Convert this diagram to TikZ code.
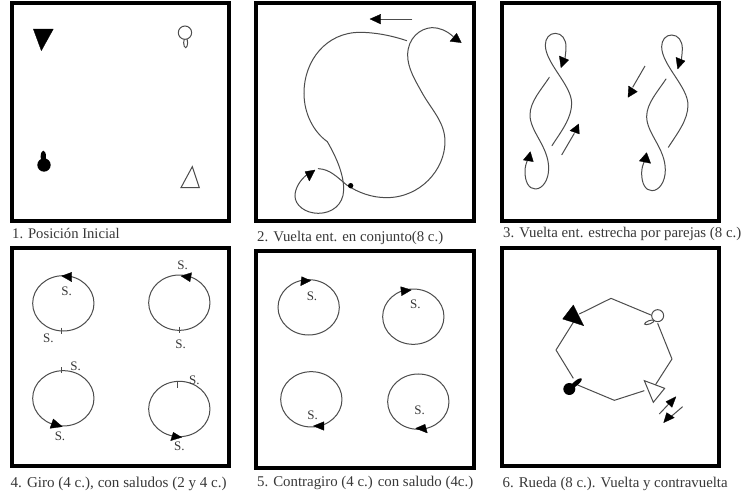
\documentclass[tikz,border=0pt]{standalone}
\usepackage{fontspec}
\setmainfont{Liberation Serif}
\definecolor{ink}{gray}{0.3}
\definecolor{txt}{gray}{0.22}
\tikzset{
  framebox/.style={draw=black,line width=3.6pt,fill=white},
  track/.style={draw=ink,line width=1pt,line cap=round},
  tiphead/.style={fill=black,draw=black,line width=0.3pt,line join=round},
  openshape/.style={draw=ink,line width=1pt,fill=white},
  blackshape/.style={fill=black},
  ring/.style={draw=ink,line width=1pt},
  arrowshaft/.style={draw=ink,line width=1pt},
  saludo/.style={text=txt,font=\fontsize{13}{13}\selectfont,inner sep=0pt},
  caption/.style={text=txt,inner sep=0pt,anchor=west}
}
\newcommand{\headtri}[3]{\fill[tiphead] #1 -- #2 -- #3 -- cycle;}
\newcommand{\capt}[4]{\node[caption] at (#1,#2) {\resizebox{#3pt}{!}{#4}};}
\begin{document}
\begin{tikzpicture}[x=1pt,y=-1pt]
\useasboundingbox[fill=white] (0,0) rectangle (746,499);
% frames
\draw[framebox] (12,3) rectangle (229,221);
\draw[framebox] (256,3) rectangle (474,221);
\draw[framebox] (502,3) rectangle (719,221);
\draw[framebox] (12,248) rectangle (229,466);
\draw[framebox] (256,251) rectangle (474,468);
\draw[framebox] (502,248) rectangle (719,466);
% panel 1
\begin{scope}[x=0.3333pt,y=-0.3333pt]
\headtri{(100,87)}{(160,87)}{(124,152)}
\draw[openshape] (557,128) ellipse (6 and 15);
\draw[openshape] (555,98) circle (20);
\fill[blackshape] (130,470) ellipse (8 and 18);
\fill[blackshape] (132,495) circle (20);
\draw[openshape] (577,500) -- (543,563) -- (598,563) -- cycle;
\end{scope}
\capt{12}{233.5}{107.5}{1. Posición Inicial}
% panel 2
\begin{scope}[shift={(250,0)},x=0.3333pt,y=-0.3333pt]
\draw[track] (470,122) .. controls (420,105) and (370,97) .. (330,97) .. controls (230,97) and (162,180) .. (162,280) .. controls (162,340) and (190,395) .. (232,425) .. controls (255,465) and (282,520) .. (281,570) .. controls (280,615) and (245,640) .. (205,640) .. controls (165,640) and (135,615) .. (135,588) .. controls (135,565) and (150,540) .. (172,523);
\headtri{(165,515)}{(195,510)}{(178,543)}
\draw[track] (205,506) .. controls (240,508) and (260,530) .. (290,555) .. controls (325,578) and (365,593) .. (410,593) .. controls (510,593) and (585,510) .. (585,425) .. controls (585,370) and (550,335) .. (520,285) .. controls (495,240) and (473,205) .. (473,165) .. controls (473,115) and (510,85) .. (545,83) .. controls (570,83) and (590,92) .. (610,110);
\headtri{(634,128)}{(600,124)}{(620,100)}
\fill[blackshape] (302,557) circle (8);
\draw[arrowshaft] (487,57) -- (390,57);
\headtri{(360,57)}{(392,43)}{(392,72)}
\end{scope}
\capt{257}{238}{186}{2. Vuelta ent. en conjunto(8 c.)}
% panel 3
\begin{scope}[shift={(496,0)},x=0.3333pt,y=-0.3333pt]
\draw[track] (160,232) .. controls (135,270) and (102,305) .. (102,345) .. controls (102,395) and (158,440) .. (158,505) .. controls (158,540) and (140,567) .. (118,567) .. controls (98,567) and (87,545) .. (87,515) .. controls (87,500) and (90,490) .. (97,475);
\headtri{(103,455)}{(82,480)}{(112,485)}
\draw[track] (168,437) .. controls (195,395) and (227,355) .. (227,310) .. controls (227,255) and (148,190) .. (148,135) .. controls (148,115) and (160,100) .. (178,100) .. controls (198,100) and (210,118) .. (210,140) .. controls (210,155) and (208,165) .. (207,175);
\headtri{(218,180)}{(190,168)}{(195,203)}
\draw[track,shift={(350,5)}] (160,232) .. controls (135,270) and (102,305) .. (102,345) .. controls (102,395) and (158,440) .. (158,505) .. controls (158,540) and (140,567) .. (118,567) .. controls (98,567) and (87,545) .. (87,515) .. controls (87,500) and (90,490) .. (97,475);
\headtri{(452,458)}{(430,483)}{(464,490)}
\draw[track,shift={(349,5)}] (168,437) .. controls (195,395) and (227,355) .. (227,310) .. controls (227,255) and (148,190) .. (148,135) .. controls (148,115) and (160,100) .. (178,100) .. controls (198,100) and (210,118) .. (210,140) .. controls (210,155) and (208,165) .. (207,175);
\headtri{(567,183)}{(540,172)}{(545,207)}
\draw[arrowshaft] (197,465) -- (235,400);
\headtri{(248,372)}{(222,392)}{(250,402)}
\draw[arrowshaft] (447,198) -- (410,262);
\headtri{(396,292)}{(398,258)}{(424,275)}
\end{scope}
\capt{503}{234}{238}{3. Vuelta ent. estrecha por parejas (8 c.)}
% panel 4
\begin{scope}[shift={(0,245)},x=0.3333pt,y=-0.3333pt]
\draw[ring] (190,175) ellipse (92 and 83);
\draw[ring] (538,173) ellipse (92 and 83);
\draw[ring] (190,460) ellipse (92 and 83);
\draw[ring] (538,492) ellipse (92 and 83);
\headtri{(185,93)}{(215,82)}{(215,110)}
\headtri{(543,93)}{(575,83)}{(570,110)}
\headtri{(187,545)}{(160,522)}{(150,550)}
\headtri{(545,577)}{(520,562)}{(512,587)}
\draw[arrowshaft] (185,248) -- (185,268);
\draw[arrowshaft] (538,245) -- (538,265);
\draw[arrowshaft] (185,367) -- (185,385);
\draw[arrowshaft] (532,410) -- (532,430);
\node[saludo] at (200,140) {S.};
\node[saludo] at (145,280) {S.};
\node[saludo] at (548,62) {S.};
\node[saludo] at (542,298) {S.};
\node[saludo] at (227,365) {S.};
\node[saludo] at (583,407) {S.};
\node[saludo] at (180,575) {S.};
\node[saludo] at (538,605) {S.};
\end{scope}
\capt{10.5}{484}{216}{4. Giro (4 c.), con saludos (2 y 4 c.)}
% panel 5
\begin{scope}[shift={(250,245)},x=0.3333pt,y=-0.3333pt]
\draw[ring] (176,187) ellipse (92 and 83);
\draw[ring] (490,215) ellipse (92 and 83);
\draw[ring] (184,463) ellipse (92 and 83);
\draw[ring] (505,470) ellipse (92 and 83);
\headtri{(182,107)}{(155,95)}{(152,122)}
\headtri{(484,135)}{(452,125)}{(455,152)}
\headtri{(190,543)}{(222,530)}{(222,556)}
\headtri{(497,550)}{(525,538)}{(532,564)}
\node[saludo] at (186,155) {S.};
\node[saludo] at (496,178) {S.};
\node[saludo] at (188,512) {S.};
\node[saludo] at (509,497) {S.};
\end{scope}
\capt{257}{483}{216}{5. Contragiro (4 c.) con saludo (4c.)}
% panel 6
\begin{scope}[shift={(496,245)},x=0.3333pt,y=-0.3333pt]
\draw[arrowshaft,line join=round] (232,232) -- (180,315) -- (232,400);
\draw[arrowshaft,line join=round] (250,207) -- (345,160) -- (465,210);
\draw[arrowshaft,line join=round] (485,235) -- (528,342) -- (478,420);
\draw[arrowshaft,line join=round] (445,437) -- (355,466) -- (245,420);
\headtri{(232,180)}{(200,222)}{(263,242)}
\draw[openshape,rotate around={20:(460,232)}] (460,232) ellipse (15 and 5);
\draw[openshape] (485,212) circle (18);
\draw[openshape] (445,407) -- (506,430) -- (472,472) -- cycle;
\fill[blackshape,rotate around={40:(240,415)}] (240,415) ellipse (22 and 7);
\fill[blackshape] (220,432) circle (18);
\draw[arrowshaft] (490,507) -- (520,475);
\headtri{(540,455)}{(510,470)}{(528,487)}
\draw[arrowshaft] (560,485) -- (525,515);
\headtri{(503,533)}{(512,503)}{(535,518)}
\end{scope}
\capt{502.5}{484}{225}{6. Rueda (8 c.). Vuelta y contravuelta}
\end{tikzpicture}
\end{document}
